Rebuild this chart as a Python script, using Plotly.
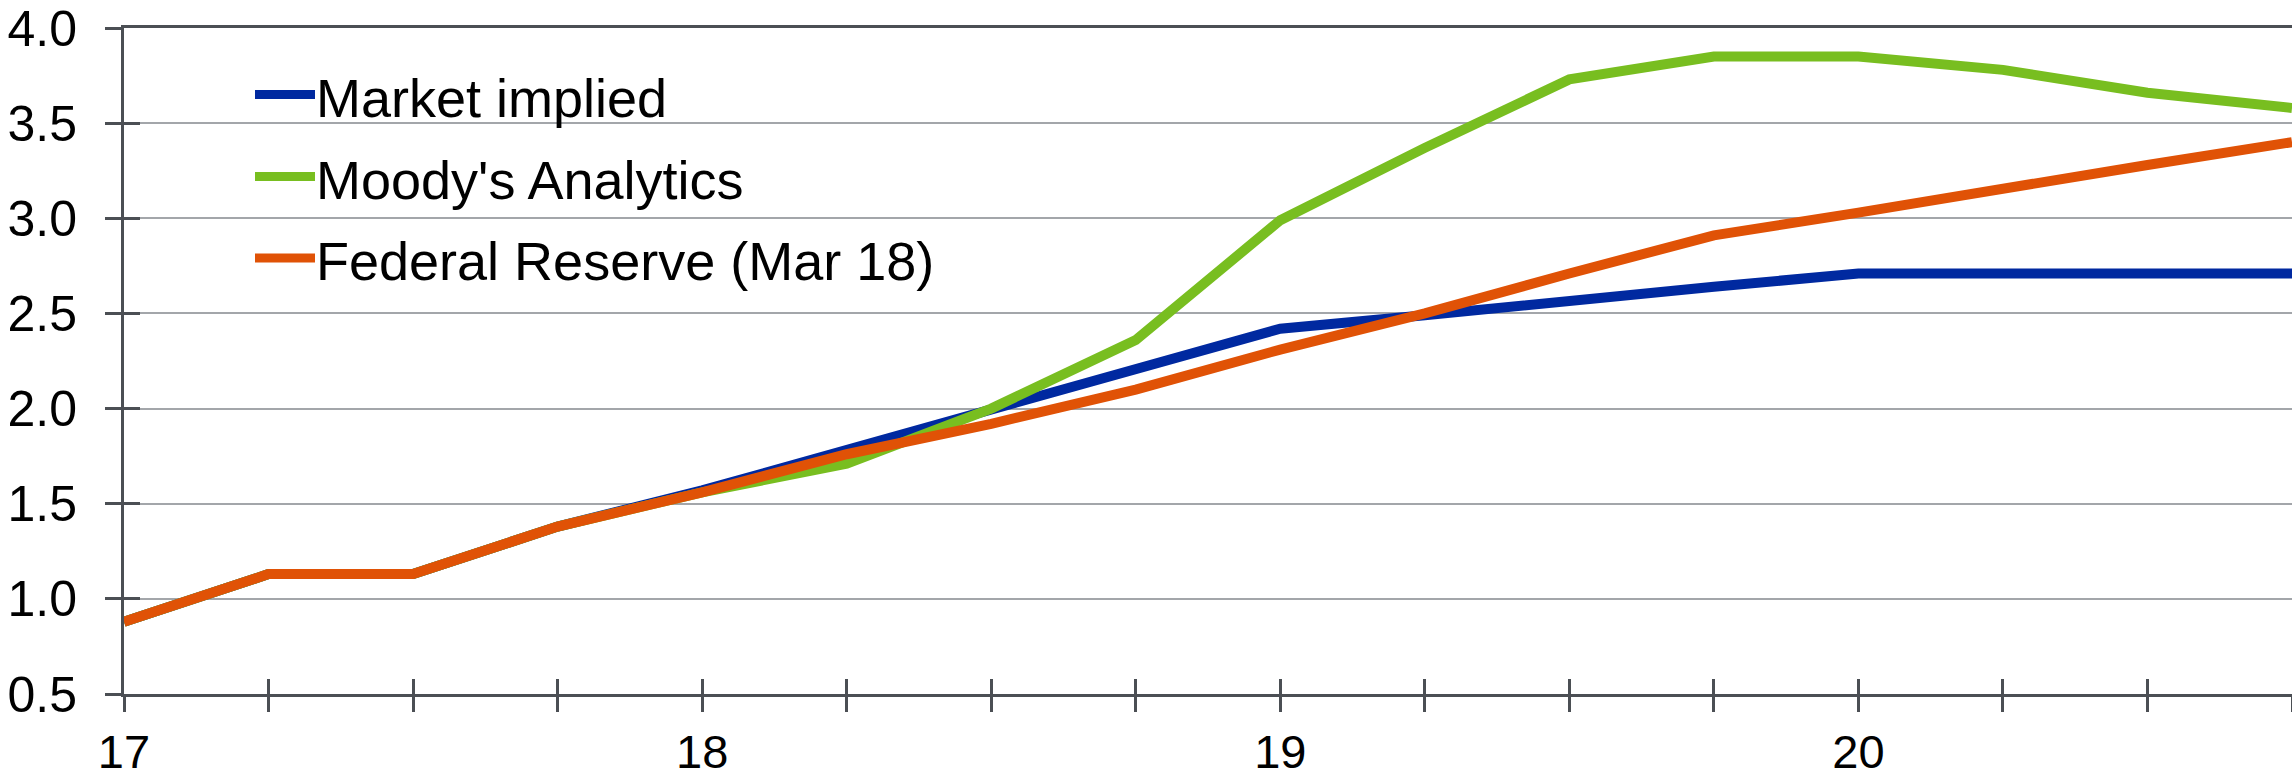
import plotly.graph_objects as go

# Quarterly horizon, 2017Q1 .. 2020Q4 (year number + fraction)
quarters = [17.0, 17.25, 17.5, 17.75, 18.0, 18.25, 18.5, 18.75,
            19.0, 19.25, 19.5, 19.75, 20.0, 20.25, 20.5, 20.75]

# Fed funds rate paths, %
market_implied = [0.88, 1.13, 1.13, 1.38, 1.57, 1.78, 1.99, 2.21,
                  2.42, 2.49, 2.57, 2.64, 2.71, 2.71, 2.71, 2.71]
moodys_analytics = [0.88, 1.13, 1.13, 1.38, 1.56, 1.71, 2.00, 2.36,
                    2.99, 3.37, 3.73, 3.85, 3.85, 3.78, 3.66, 3.58]
federal_reserve = [0.88, 1.13, 1.13, 1.38, 1.56, 1.76, 1.92, 2.10,
                   2.31, 2.50, 2.71, 2.91, 3.03, 3.16, 3.28, 3.40]

series_names = ["Market implied", "Moody's Analytics", "Federal Reserve (Mar 18)"]
series_values = [market_implied, moodys_analytics, federal_reserve]
series_colors = ["#0029A0", "#78BE20", "#E05206"]

x_tick_text = ["17", "", "", "", "18", "", "", "", "19", "", "", "", "20", "", "", ""]
y_tick_vals = [0.5, 1.0, 1.5, 2.0, 2.5, 3.0, 3.5, 4.0]

FONT = "Liberation Sans, Arial, Helvetica, sans-serif"
AXIS = "#4B4F54"
GRID = "#A3A6AA"

W, H = 2292, 781
ML, MR, MT, MB = 124, 0, 28, 87
PW, PH = W - ML - MR, H - MT - MB


def px_x(p):
    return (p - ML) / PW


def px_y(p):
    return 1 - (p - MT) / PH


fig = go.Figure()
for name, vals, col in zip(series_names, series_values, series_colors):
    fig.add_trace(go.Scatter(x=quarters, y=vals, mode="lines", name=name,
                             line=dict(color=col, width=10), showlegend=False))

# companion axes carry the inward half of the crossing tick marks
fig.add_trace(go.Scatter(x=[None], y=[None], xaxis="x2", yaxis="y2",
                         showlegend=False, hoverinfo="skip"))

x_range = [quarters[0], quarters[-1]]
y_range = [0.5, 4.0]

fig.update_layout(
    width=W, height=H,
    margin=dict(l=ML, r=MR, t=MT, b=MB, pad=0, autoexpand=False),
    paper_bgcolor="white", plot_bgcolor="white",
    font=dict(family=FONT, size=52, color="black"),
    showlegend=False,
    xaxis=dict(range=x_range, tickmode="array", tickvals=quarters, ticktext=x_tick_text,
               ticks="outside", ticklen=15, tickwidth=2.5, tickcolor=AXIS,
               showline=True, linecolor=AXIS, linewidth=3, mirror=True,
               showgrid=False, zeroline=False, ticklabelstandoff=0,
               ticklabeloverflow="allow", automargin=False,
               tickfont=dict(family=FONT, size=47, color="black")),
    yaxis=dict(range=y_range, tickmode="array", tickvals=y_tick_vals, tickformat=".1f",
               ticks="outside", ticklen=16, tickwidth=2.5, tickcolor=AXIS,
               showline=True, linecolor=AXIS, linewidth=3,
               showgrid=True, gridcolor=GRID, gridwidth=2, zeroline=False,
               ticklabelstandoff=18, ticklabeloverflow="allow", automargin=False,
               tickfont=dict(family=FONT, size=50, color="black")),
    xaxis2=dict(range=x_range, overlaying="x", anchor="y2", side="bottom",
                tickmode="array", tickvals=quarters, ticks="inside", ticklen=15,
                tickwidth=2.5, tickcolor=AXIS, showticklabels=False, automargin=False,
                showline=False, showgrid=False, zeroline=False),
    yaxis2=dict(range=y_range, overlaying="y", anchor="x2", side="left",
                tickmode="array", tickvals=y_tick_vals, ticks="inside", ticklen=16,
                tickwidth=2.5, tickcolor=AXIS, showticklabels=False, automargin=False,
                showline=False, showgrid=False, zeroline=False),
)

# legend: white panel over the gridlines, swatches and labels
shapes = [dict(type="rect", xref="paper", yref="paper", layer="between",
               x0=px_x(220), x1=px_x(965), y0=px_y(292), y1=px_y(58),
               fillcolor="white", line=dict(width=0))]
annotations = []
legend_rows = [94.5, 176.5, 258]
for name, col, row in zip(series_names, series_colors, legend_rows):
    shapes.append(dict(type="line", xref="paper", yref="paper", layer="above",
                       x0=px_x(255), x1=px_x(315), y0=px_y(row), y1=px_y(row),
                       line=dict(color=col, width=9)))
    annotations.append(dict(text=name, xref="paper", yref="paper",
                            x=px_x(315), y=px_y(row + 3), xanchor="left", yanchor="middle",
                            showarrow=False, borderpad=0,
                            font=dict(family=FONT, size=54, color="black")))
fig.update_layout(shapes=shapes, annotations=annotations)

fig.write_html("out.html")
